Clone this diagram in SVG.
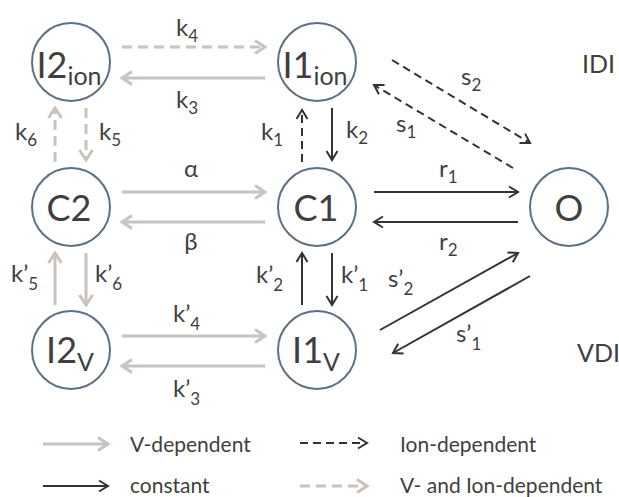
<svg xmlns="http://www.w3.org/2000/svg" width="619" height="497" viewBox="0 0 619 497">
<style>
text{font-family:Lato,"Liberation Sans",sans-serif;fill:#3f3f3f}
.node{font-size:36px}
.lbl{font-size:24px}
.leg{font-size:21px}
.st{font-size:17px}
circle{fill:#fff;stroke:#5d6f84;stroke-width:2}
.g{stroke:#c9c2be;stroke-width:3;fill:none;marker-end:url(#ag)}
.d{stroke:#333;stroke-width:2;fill:none;marker-end:url(#ad)}
.gd{stroke-dasharray:10 6}
.dd{stroke-dasharray:8 5}
</style>
<defs>
<marker id="ag" markerUnits="userSpaceOnUse" viewBox="-13 -8 15 16" refX="0" refY="0" markerWidth="15" markerHeight="16" orient="auto">
<path d="M-10,-6.5 L0,0 L-10,6.5" fill="none" stroke="#c9c2be" stroke-width="3"/>
</marker>
<marker id="ad" markerUnits="userSpaceOnUse" viewBox="-13 -8 15 16" refX="0" refY="0" markerWidth="15" markerHeight="16" orient="auto">
<path d="M-9,-5.5 L0,0 L-9,5.5" fill="none" stroke="#333" stroke-width="2"/>
</marker>
</defs>
<g id="connectors">
<line class="g gd" x1="122" y1="47" x2="265" y2="47"/>
<line class="g" x1="265" y1="78" x2="122" y2="78"/>
<line class="g" x1="122" y1="192" x2="265" y2="192"/>
<line class="g" x1="265" y1="222" x2="122" y2="222"/>
<line class="g" x1="122" y1="336" x2="265" y2="336"/>
<line class="g" x1="265" y1="366" x2="122" y2="366"/>
<line class="g gd" x1="55" y1="162" x2="55" y2="108"/>
<line class="g gd" x1="86" y1="108" x2="86" y2="160"/>
<line class="g" x1="55" y1="305" x2="55" y2="253"/>
<line class="g" x1="86" y1="253" x2="86" y2="305"/>
<line class="d dd" x1="302" y1="162" x2="302" y2="110"/>
<line class="d" x1="332" y1="108" x2="332" y2="160"/>
<line class="d" x1="302" y1="305" x2="302" y2="253"/>
<line class="d" x1="332" y1="253" x2="332" y2="305"/>
<line class="d" x1="374" y1="192" x2="518" y2="192"/>
<line class="d" x1="518" y1="222" x2="374" y2="222"/>
<line class="d dd" x1="392" y1="60" x2="530" y2="143"/>
<line class="d dd" x1="513" y1="168" x2="374" y2="85"/>
<line class="d" x1="380" y1="330" x2="518" y2="253"/>
<line class="d" x1="530" y1="276" x2="393" y2="353"/>
</g>
<g id="edge-labels" class="lbl">
<text x="176" y="36">k<tspan class="st" dy="6">4</tspan></text>
<text x="176" y="108">k<tspan class="st" dy="6">3</tspan></text>
<text x="15" y="140">k<tspan class="st" dy="6">6</tspan></text>
<text x="99" y="140">k<tspan class="st" dy="6">5</tspan></text>
<text x="261" y="140">k<tspan class="st" dy="6">1</tspan></text>
<text x="346" y="138">k<tspan class="st" dy="6">2</tspan></text>
<text x="191" y="177" text-anchor="middle">α</text>
<text x="191" y="250" text-anchor="middle">β</text>
<text x="439" y="177">r<tspan class="st" dy="6">1</tspan></text>
<text x="439" y="250">r<tspan class="st" dy="6">2</tspan></text>
<text x="461" y="85">s<tspan class="st" dy="6">2</tspan></text>
<text x="396" y="132">s<tspan class="st" dy="6">1</tspan></text>
<text x="11" y="282">k’<tspan class="st" dy="8">5</tspan></text>
<text x="95" y="282">k’<tspan class="st" dy="8">6</tspan></text>
<text x="256" y="283">k’<tspan class="st" dy="8">2</tspan></text>
<text x="341" y="283">k’<tspan class="st" dy="8">1</tspan></text>
<text x="388" y="287">s’<tspan class="st" dy="8">2</tspan></text>
<text x="173" y="322">k’<tspan class="st" dy="8">4</tspan></text>
<text x="173" y="397">k’<tspan class="st" dy="8">3</tspan></text>
<text x="456" y="342">s’<tspan class="st" dy="8">1</tspan></text>
</g>
<g id="I2ion"><circle cx="71" cy="62" r="39"/><text class="node" x="69" y="78" text-anchor="middle">I2<tspan font-size="25" dy="7">ion</tspan></text></g>
<g id="I1ion"><circle cx="317" cy="62" r="39"/><text class="node" x="315" y="78" text-anchor="middle">I1<tspan font-size="25" dy="7">ion</tspan></text></g>
<g id="C2"><circle cx="71" cy="207" r="39"/><text class="node" x="69" y="221" text-anchor="middle">C2</text></g>
<g id="C1"><circle cx="317" cy="207" r="39"/><text class="node" x="316" y="221" text-anchor="middle">C1</text></g>
<g id="O"><circle cx="569" cy="207" r="39"/><text class="node" x="569" y="221" text-anchor="middle">O</text></g>
<g id="I2V"><circle cx="71" cy="350" r="39"/><text class="node" x="70" y="363" text-anchor="middle">I2<tspan font-size="25" dy="8">V</tspan></text></g>
<g id="I1V"><circle cx="317" cy="350" r="39"/><text class="node" x="316" y="363" text-anchor="middle">I1<tspan font-size="25" dy="8">V</tspan></text></g>
<g id="regions">
<text x="582" y="73" font-size="25">IDI</text>
<text x="577" y="362" font-size="25">VDI</text>
</g>
<g id="legend" class="leg">
<line class="g" x1="43" y1="444" x2="108" y2="444"/>
<text x="130" y="452">V-dependent</text>
<line class="d" x1="43" y1="486" x2="108" y2="486"/>
<text x="130" y="493">constant</text>
<line class="d dd" x1="300" y1="443" x2="367" y2="443"/>
<text x="400" y="452">Ion-dependent</text>
<line class="g gd" x1="300" y1="486" x2="367" y2="486"/>
<text x="400" y="493">V- and Ion-dependent</text>
</g>
</svg>
